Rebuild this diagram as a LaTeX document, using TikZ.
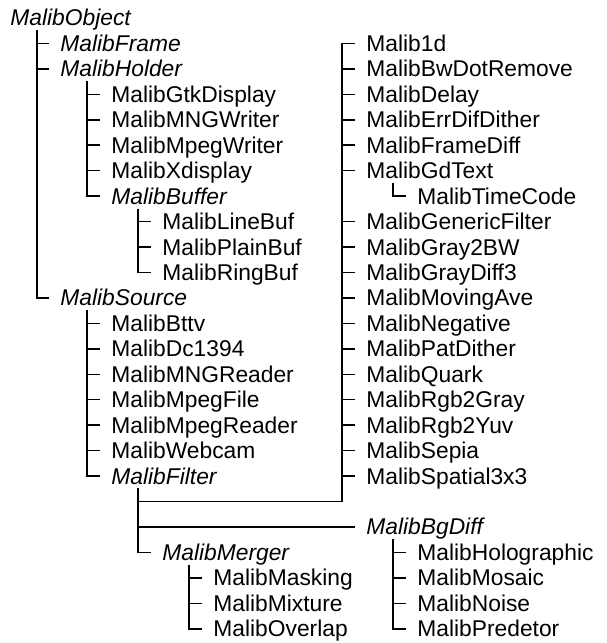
\documentclass[tikz,border=0pt]{standalone}
\usepackage{fontspec}
\setmainfont{Liberation Sans}

\begin{document}
\begin{tikzpicture}[x=0.5pt,y=-12.725pt,
    cls/.style={anchor=base west,inner xsep=5.5pt,inner ysep=0pt,
                text height=10pt,text depth=2pt,font=\fontsize{11.4}{13}\selectfont},
    abs/.style={cls,font=\fontsize{11.4}{13}\selectfont\itshape},
    link/.style={line width=0.75pt}]
  \useasboundingbox (0,-1.0216) rectangle (606,24.244);
  % left column
  \node[abs] (obj)      at (-1,0)  {MalibObject};
  \node[abs] (frame)    at (49,1)  {MalibFrame};
  \node[abs] (holder)   at (49,2)  {MalibHolder};
  \node[cls] (gtk)      at (100,3) {MalibGtkDisplay};
  \node[cls] (mngw)     at (100,4) {MalibMNGWriter};
  \node[cls] (mpegw)    at (100,5) {MalibMpegWriter};
  \node[cls] (xdisp)    at (100,6) {MalibXdisplay};
  \node[abs] (buffer)   at (100,7) {MalibBuffer};
  \node[cls] (linebuf)  at (151,8) {MalibLineBuf};
  \node[cls] (plainbuf) at (151,9) {MalibPlainBuf};
  \node[cls] (ringbuf)  at (151,10){MalibRingBuf};
  \node[abs] (source)   at (49,11) {MalibSource};
  \node[cls] (bttv)     at (100,12){MalibBttv};
  \node[cls] (dc)       at (100,13){MalibDc1394};
  \node[cls] (mngr)     at (100,14){MalibMNGReader};
  \node[cls] (mpegf)    at (100,15){MalibMpegFile};
  \node[cls] (mpegr)    at (100,16){MalibMpegReader};
  \node[cls] (webcam)   at (100,17){MalibWebcam};
  \node[abs] (filter)   at (100,18){MalibFilter};
  \node[abs] (merger)   at (151,21){MalibMerger};
  \node[cls] (masking)  at (202,22){MalibMasking};
  \node[cls] (mixture)  at (202,23){MalibMixture};
  \node[cls] (overlap)  at (202,24){MalibOverlap};
  % right column
  \node[cls] (m1d)      at (355,1) {Malib1d};
  \node[cls] (bwdot)    at (355,2) {MalibBwDotRemove};
  \node[cls] (delay)    at (355,3) {MalibDelay};
  \node[cls] (errdif)   at (355,4) {MalibErrDifDither};
  \node[cls] (fdiff)    at (355,5) {MalibFrameDiff};
  \node[cls] (gdtext)   at (355,6) {MalibGdText};
  \node[cls] (timecode) at (406,7) {MalibTimeCode};
  \node[cls] (generic)  at (355,8) {MalibGenericFilter};
  \node[cls] (g2bw)     at (355,9) {MalibGray2BW};
  \node[cls] (gdiff)    at (355,10){MalibGrayDiff3};
  \node[cls] (movave)   at (355,11){MalibMovingAve};
  \node[cls] (neg)      at (355,12){MalibNegative};
  \node[cls] (patdith)  at (355,13){MalibPatDither};
  \node[cls] (quark)    at (355,14){MalibQuark};
  \node[cls] (r2gray)   at (355,15){MalibRgb2Gray};
  \node[cls] (r2yuv)    at (355,16){MalibRgb2Yuv};
  \node[cls] (sepia)    at (355,17){MalibSepia};
  \node[cls] (spatial)  at (355,18){MalibSpatial3x3};
  \node[abs] (bgdiff)   at (355,20){MalibBgDiff};
  \node[cls] (holo)     at (406,21){MalibHolographic};
  \node[cls] (mosaic)   at (406,22){MalibMosaic};
  \node[cls] (noise)    at (406,23){MalibNoise};
  \node[cls] (predetor) at (406,24){MalibPredetor};
  \coordinate (fork) at (342,18.686);
  % tree lines
  \foreach \c in {frame,holder,source}
    \draw[link] ([xshift=19pt]obj.south west) |- (\c.west);
  \foreach \c in {gtk,mngw,mpegw,xdisp,buffer}
    \draw[link] ([xshift=19pt]holder.south west) |- (\c.west);
  \foreach \c in {linebuf,plainbuf,ringbuf}
    \draw[link] ([xshift=19pt]buffer.south west) |- (\c.west);
  \foreach \c in {bttv,dc,mngr,mpegf,mpegr,webcam,filter}
    \draw[link] ([xshift=19pt]source.south west) |- (\c.west);
  \foreach \c in {m1d,bwdot,delay,errdif,fdiff,gdtext,generic,g2bw,gdiff,
                  movave,neg,patdith,quark,r2gray,r2yuv,sepia,spatial}
    \draw[link] ([xshift=19pt]filter.south west) |- (fork) |- (\c.west);
  \foreach \c in {bgdiff,merger}
    \draw[link] ([xshift=19pt]filter.south west) |- (\c.west);
  \draw[link] ([xshift=19pt]gdtext.south west) |- (timecode.west);
  \foreach \c in {holo,mosaic,noise,predetor}
    \draw[link] ([xshift=19pt]bgdiff.south west) |- (\c.west);
  \foreach \c in {masking,mixture,overlap}
    \draw[link] ([xshift=19pt]merger.south west) |- (\c.west);
\end{tikzpicture}
\end{document}
